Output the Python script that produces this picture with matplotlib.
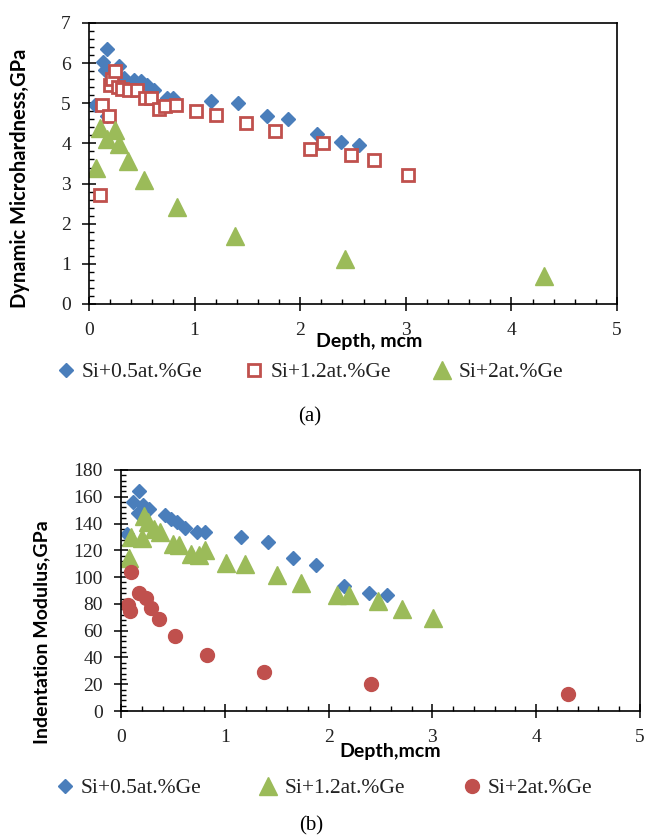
import matplotlib
matplotlib.use("Agg")
import matplotlib.pyplot as plt
from matplotlib.ticker import MultipleLocator

# (a) dynamic microhardness vs depth
a_depth_05 = [0.06, 0.13, 0.15, 0.17, 0.17, 0.22, 0.28, 0.33, 0.43, 0.49, 0.55, 0.62,
              0.74, 0.80, 1.16, 1.41, 1.69, 1.88, 2.16, 2.39, 2.56]
a_hard_05 = [4.95, 6.04, 5.82, 6.35, 4.68, 5.70, 5.92, 5.62, 5.57, 5.56, 5.45, 5.34,
             5.13, 5.13, 5.05, 5.00, 4.69, 4.60, 4.23, 4.03, 3.97]

a_depth_12 = [0.10, 0.12, 0.19, 0.20, 0.22, 0.25, 0.27, 0.31, 0.38, 0.45, 0.53, 0.59,
              0.66, 0.72, 0.82, 1.01, 1.20, 1.49, 1.76, 2.09, 2.22, 2.48, 2.70, 3.02]
a_hard_12 = [2.72, 4.95, 4.68, 5.45, 5.60, 5.80, 5.40, 5.35, 5.33, 5.33, 5.12, 5.12,
             4.85, 4.92, 4.95, 4.81, 4.71, 4.50, 4.30, 3.85, 4.00, 3.72, 3.58, 3.21]

a_depth_2 = [0.07, 0.10, 0.17, 0.25, 0.28, 0.37, 0.52, 0.83, 1.38, 2.42, 4.31]
a_hard_2 = [3.38, 4.38, 4.12, 4.33, 3.98, 3.57, 3.09, 2.42, 1.70, 1.12, 0.70]

# (b) indentation modulus vs depth
b_depth_05 = [0.06, 0.12, 0.16, 0.17, 0.21, 0.27, 0.42, 0.48, 0.54, 0.62, 0.73, 0.81,
              1.16, 1.42, 1.66, 1.88, 2.15, 2.39, 2.56]
b_mod_05 = [132.5, 156, 148, 164.5, 153.5, 151, 146.5, 143.5, 141, 136.5, 134, 134,
            130, 126, 114, 109, 93.5, 88.5, 87]

b_depth_12 = [0.08, 0.10, 0.20, 0.22, 0.26, 0.32, 0.38, 0.50, 0.56, 0.67, 0.75, 0.81,
              1.01, 1.19, 1.50, 1.73, 2.08, 2.20, 2.48, 2.71, 3.01]
b_mod_12 = [114, 130, 129, 146, 141, 136, 134, 125, 124, 117.5, 116.5, 120,
            110.5, 110, 101.5, 95.5, 86.5, 86.5, 82, 76, 69.5]

b_depth_2 = [0.07, 0.09, 0.10, 0.17, 0.24, 0.29, 0.37, 0.52, 0.83, 1.38, 2.41, 4.31]
b_mod_2 = [79, 75, 104, 88, 84.5, 77, 68.5, 56, 41.5, 29, 19.8, 12.5]

labels = ["Si+0.5at.%Ge", "Si+1.2at.%Ge", "Si+2at.%Ge"]

BLUE = "#4a7ebb"
RED = "#c0504d"
GREEN = "#9bbb59"
SERIF = "Liberation Serif"
SANS = "Lato"

fig = plt.figure(figsize=(6.46, 8.39), dpi=100)
W, H = 646, 839


def px_axes(l, t, r, b):
    return fig.add_axes([l / W, 1 - b / H, (r - l) / W, (b - t) / H])


def style_axes(ax, ymax, ymajor, yminor):
    ax.set_xlim(0, 5)
    ax.set_ylim(0, ymax)
    ax.xaxis.set_major_locator(MultipleLocator(1))
    ax.xaxis.set_minor_locator(MultipleLocator(0.2))
    ax.yaxis.set_major_locator(MultipleLocator(ymajor))
    ax.yaxis.set_minor_locator(MultipleLocator(yminor))
    ax.tick_params(which="major", direction="inout", length=10, width=1.1,
                   labelsize=14, pad=8)
    ax.tick_params(which="minor", direction="in", length=3.5, width=1.0)
    for sp in ax.spines.values():
        sp.set_linewidth(1.2)
    for lab in ax.get_xticklabels() + ax.get_yticklabels():
        lab.set_fontfamily(SERIF)
        lab.set_color("#222222")


def add_legend(handles, y, x0, spacing):
    return fig.legend(handles, labels, loc="center left",
                      bbox_to_anchor=(x0 / W, 1 - y / H), ncol=3, frameon=False,
                      handlelength=0.8, handletextpad=0.35, columnspacing=spacing,
                      borderpad=0, borderaxespad=0, labelcolor="#222222",
                      prop={"family": SERIF, "size": 15.5})


# ---- (a)
ax1 = px_axes(89, 23, 617, 304)
h1 = ax1.plot(a_depth_05, a_hard_05, ls="none", marker="D", ms=7.5, color=BLUE)[0]
h2 = ax1.plot(a_depth_12, a_hard_12, ls="none", marker="s", ms=8, mfc="white",
              mec=RED, mew=2.0)[0]
h3 = ax1.plot(a_depth_2, a_hard_2, ls="none", marker="^", ms=12.5, color=GREEN)[0]
style_axes(ax1, 7, 1, 0.2)
fig.text(20 / W, 1 - 178 / H, "Dynamic Microhardness,GPa", rotation=90,
         ha="center", va="center", family=SANS, weight="bold", size=14.5)
fig.text(369 / W, 1 - 341 / H, "Depth, mcm", ha="center", va="center",
         family=SANS, weight="bold", size=14)
add_legend([h1, h2, h3], 372, 57, 2.0)
fig.text(310 / W, 1 - 417 / H, "(a)", ha="center", va="center",
         family=SERIF, size=15)

# ---- (b)
ax2 = px_axes(121, 470, 640, 711)
g1 = ax2.plot(b_depth_05, b_mod_05, ls="none", marker="D", ms=7.5, color=BLUE)[0]
g2 = ax2.plot(b_depth_12, b_mod_12, ls="none", marker="^", ms=12.5, color=GREEN)[0]
g3 = ax2.plot(b_depth_2, b_mod_2, ls="none", marker="o", ms=10, color=RED)[0]
style_axes(ax2, 180, 20, 4)
fig.text(42 / W, 1 - 632 / H, "Indentation Modulus,GPa", rotation=90,
         ha="center", va="center", family=SANS, weight="bold", size=14)
fig.text(390 / W, 1 - 752 / H, "Depth,mcm", ha="center", va="center",
         family=SANS, weight="bold", size=14)
add_legend([g1, g2, g3], 788, 56, 2.7)
fig.text(311 / W, 1 - 826 / H, "(b)", ha="center", va="center",
         family=SERIF, size=15)

fig.savefig("out.png", dpi=100)
